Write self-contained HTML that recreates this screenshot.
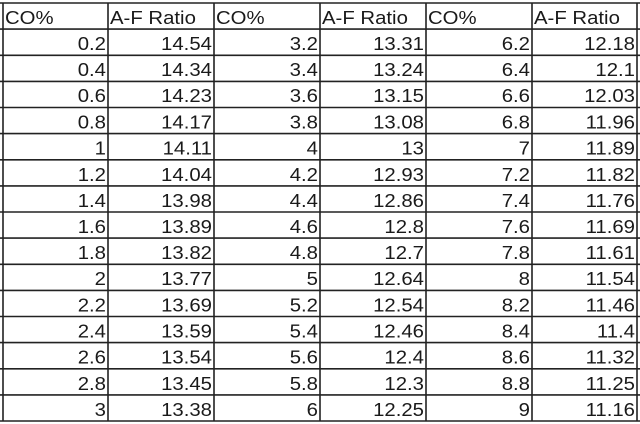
<!DOCTYPE html>
<html><head><meta charset="utf-8"><style>
html,body{margin:0;padding:0;background:#fff;}
svg{display:block;}
text{font-family:"Liberation Sans",Arial,sans-serif;font-size:18.5px;fill:#1a1a1a;transform-box:fill-box;}
.l text{transform:scaleX(1.1);transform-origin:left center;}
.r text{text-anchor:end;transform:scaleX(1.1);transform-origin:right center;}
</style></head><body>
<svg width="640" height="424" viewBox="0 0 640 424" xmlns="http://www.w3.org/2000/svg">
<rect width="640" height="424" fill="#fff"/>
<g stroke="#222" stroke-width="1.6">
<line x1="3" y1="3" x2="3" y2="421"/><line x1="108" y1="3" x2="108" y2="421"/><line x1="214" y1="3" x2="214" y2="421"/><line x1="320" y1="3" x2="320" y2="421"/><line x1="426" y1="3" x2="426" y2="421"/><line x1="532" y1="3" x2="532" y2="421"/><line x1="637" y1="3" x2="637" y2="421"/>
<line x1="0" y1="3" x2="640" y2="3"/><line x1="0" y1="29.1" x2="640" y2="29.1"/><line x1="0" y1="55.3" x2="640" y2="55.3"/><line x1="0" y1="81.4" x2="640" y2="81.4"/><line x1="0" y1="107.5" x2="640" y2="107.5"/><line x1="0" y1="133.6" x2="640" y2="133.6"/><line x1="0" y1="159.8" x2="640" y2="159.8"/><line x1="0" y1="185.9" x2="640" y2="185.9"/><line x1="0" y1="212" x2="640" y2="212"/><line x1="0" y1="238.1" x2="640" y2="238.1"/><line x1="0" y1="264.3" x2="640" y2="264.3"/><line x1="0" y1="290.4" x2="640" y2="290.4"/><line x1="0" y1="316.5" x2="640" y2="316.5"/><line x1="0" y1="342.6" x2="640" y2="342.6"/><line x1="0" y1="368.8" x2="640" y2="368.8"/><line x1="0" y1="394.9" x2="640" y2="394.9"/><line x1="0" y1="421" x2="640" y2="421"/>
</g>
<g class="l">
<text x="5" y="24">CO%</text><text x="110" y="24">A-F Ratio</text><text x="216" y="24">CO%</text><text x="322" y="24">A-F Ratio</text><text x="428" y="24">CO%</text><text x="534" y="24">A-F Ratio</text>
</g>
<g class="r">
<text x="106" y="50">0.2</text><text x="212" y="50">14.54</text><text x="318" y="50">3.2</text><text x="424" y="50">13.31</text><text x="530" y="50">6.2</text><text x="635" y="50">12.18</text>
<text x="106" y="76">0.4</text><text x="212" y="76">14.34</text><text x="318" y="76">3.4</text><text x="424" y="76">13.24</text><text x="530" y="76">6.4</text><text x="635" y="76">12.1</text>
<text x="106" y="102">0.6</text><text x="212" y="102">14.23</text><text x="318" y="102">3.6</text><text x="424" y="102">13.15</text><text x="530" y="102">6.6</text><text x="635" y="102">12.03</text>
<text x="106" y="128.5">0.8</text><text x="212" y="128.5">14.17</text><text x="318" y="128.5">3.8</text><text x="424" y="128.5">13.08</text><text x="530" y="128.5">6.8</text><text x="635" y="128.5">11.96</text>
<text x="106" y="154.6">1</text><text x="212" y="154.6">14.11</text><text x="318" y="154.6">4</text><text x="424" y="154.6">13</text><text x="530" y="154.6">7</text><text x="635" y="154.6">11.89</text>
<text x="106" y="181">1.2</text><text x="212" y="181">14.04</text><text x="318" y="181">4.2</text><text x="424" y="181">12.93</text><text x="530" y="181">7.2</text><text x="635" y="181">11.82</text>
<text x="106" y="207">1.4</text><text x="212" y="207">13.98</text><text x="318" y="207">4.4</text><text x="424" y="207">12.86</text><text x="530" y="207">7.4</text><text x="635" y="207">11.76</text>
<text x="106" y="233">1.6</text><text x="212" y="233">13.89</text><text x="318" y="233">4.6</text><text x="424" y="233">12.8</text><text x="530" y="233">7.6</text><text x="635" y="233">11.69</text>
<text x="106" y="259">1.8</text><text x="212" y="259">13.82</text><text x="318" y="259">4.8</text><text x="424" y="259">12.7</text><text x="530" y="259">7.8</text><text x="635" y="259">11.61</text>
<text x="106" y="285">2</text><text x="212" y="285">13.77</text><text x="318" y="285">5</text><text x="424" y="285">12.64</text><text x="530" y="285">8</text><text x="635" y="285">11.54</text>
<text x="106" y="311.4">2.2</text><text x="212" y="311.4">13.69</text><text x="318" y="311.4">5.2</text><text x="424" y="311.4">12.54</text><text x="530" y="311.4">8.2</text><text x="635" y="311.4">11.46</text>
<text x="106" y="337.5">2.4</text><text x="212" y="337.5">13.59</text><text x="318" y="337.5">5.4</text><text x="424" y="337.5">12.46</text><text x="530" y="337.5">8.4</text><text x="635" y="337.5">11.4</text>
<text x="106" y="363.6">2.6</text><text x="212" y="363.6">13.54</text><text x="318" y="363.6">5.6</text><text x="424" y="363.6">12.4</text><text x="530" y="363.6">8.6</text><text x="635" y="363.6">11.32</text>
<text x="106" y="390">2.8</text><text x="212" y="390">13.45</text><text x="318" y="390">5.8</text><text x="424" y="390">12.3</text><text x="530" y="390">8.8</text><text x="635" y="390">11.25</text>
<text x="106" y="416">3</text><text x="212" y="416">13.38</text><text x="318" y="416">6</text><text x="424" y="416">12.25</text><text x="530" y="416">9</text><text x="635" y="416">11.16</text>
</g>
</svg>
</body></html>
